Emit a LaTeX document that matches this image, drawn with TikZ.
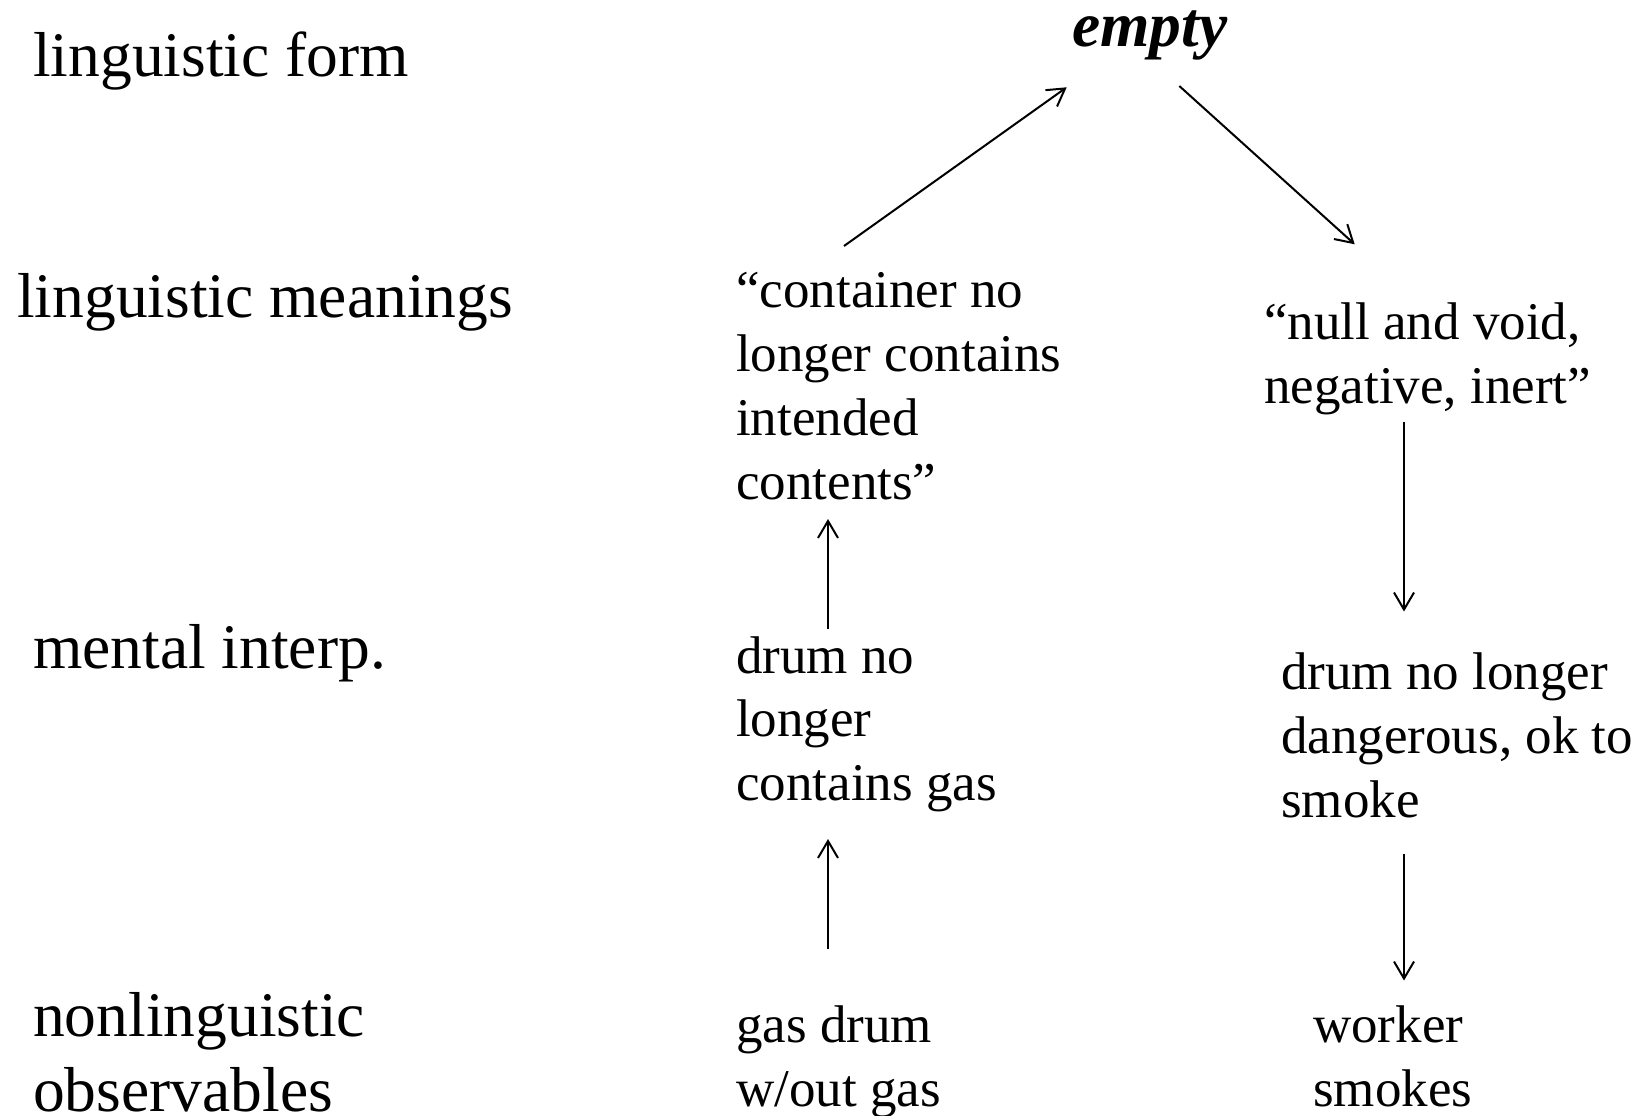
\documentclass[tikz,border=0pt]{standalone}
\usepackage{fontspec}
\setmainfont{Liberation Serif}
\usetikzlibrary{arrows.meta}
\begin{document}
\begin{tikzpicture}[x=1pt,y=-1pt,
  lab/.style={anchor=base west, inner sep=0pt, align=left, font=\fontsize{63.5}{75}\selectfont},
  txt/.style={anchor=base west, inner sep=0pt, align=left, font=\fontsize{53}{63.7}\selectfont},
  arr/.style={-{Straight Barb[length=17pt,width=20pt]}, line width=2pt}]
\useasboundingbox (0,0) rectangle (1644,1116);
% base anchor of a multi-line node sits on its last line
\node[lab] (lf) at (33,77) {linguistic form};
\node[lab] (lm) at (17,317) {linguistic meanings};
\node[lab] (mi) at (33,668) {mental interp.};
\node[lab] (no) at (33,1111) {nonlinguistic\\observables};
\node[anchor=base west, inner sep=0pt, font=\fontsize{63.5}{75}\selectfont\bfseries\itshape] (empty) at (1072,47) {empty};
\node[txt] (m1) at (736,499) {“container no\\longer contains\\intended\\contents”};
\node[txt] (m2) at (1264,403) {“null and void,\\negative, inert”};
\node[txt] (i1) at (736,800.5) {drum no\\longer\\contains gas};
\node[txt] (i2) at (1281,817) {drum no longer\\dangerous, ok to\\smoke};
\node[txt] (o1) at (736,1106.5) {gas drum\\w/out gas};
\node[txt] (o2) at (1313,1106.5) {worker\\smokes};
\coordinate (a1s) at (844,246);   \coordinate (a1e) at (1066.7,87.3);
\coordinate (a2s) at (1179.3,86); \coordinate (a2e) at (1354.7,244.3);
\coordinate (a3s) at (828,629);   \coordinate (a3e) at (828,519);
\coordinate (a4s) at (828,949);   \coordinate (a4e) at (828,839);
\coordinate (a5s) at (1404,422);  \coordinate (a5e) at (1404,611.5);
\coordinate (a6s) at (1404,854);  \coordinate (a6e) at (1404,980.5);
\draw[arr] (a1s) -- (a1e);
\draw[arr] (a2s) -- (a2e);
\draw[arr] (a3s) -- (a3e);
\draw[arr] (a4s) -- (a4e);
\draw[arr] (a5s) -- (a5e);
\draw[arr] (a6s) -- (a6e);
\end{tikzpicture}
\end{document}
